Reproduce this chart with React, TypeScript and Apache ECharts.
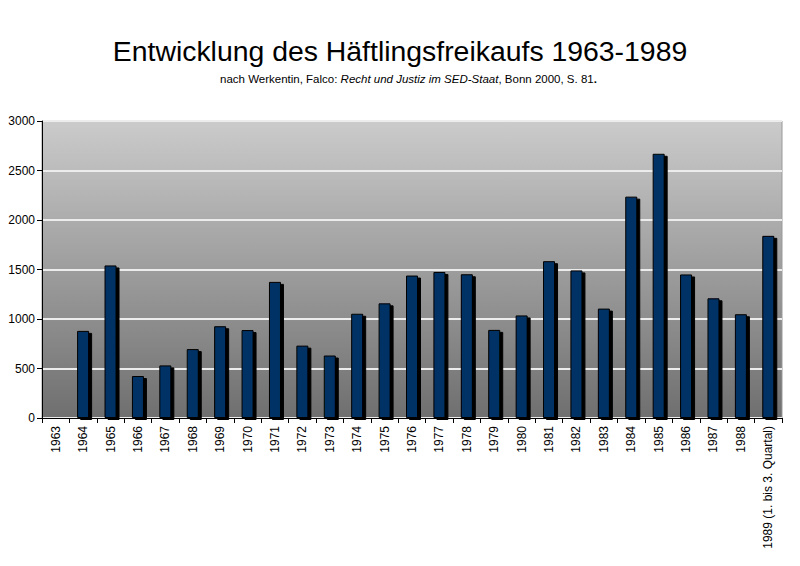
import React, { useEffect, useRef } from "react";
import * as echarts from "echarts";

const categories = [
  "1963", "1964", "1965", "1966", "1967", "1968", "1969", "1970", "1971",
  "1972", "1973", "1974", "1975", "1976", "1977", "1978", "1979", "1980",
  "1981", "1982", "1983", "1984", "1985", "1986", "1987", "1988",
  "1989 (1. bis 3. Quartal)",
];

const prisoners = [
  8, 880, 1541, 424, 531, 696, 927, 888, 1375, 731, 631, 1053, 1158, 1439,
  1475, 1452, 890, 1036, 1584, 1491, 1105, 2236, 2669, 1450, 1209, 1048, 1840,
];

const titleText = "Entwicklung des Häftlingsfreikaufs 1963-1989";

export default function App() {
  const ref = useRef<HTMLDivElement>(null);
  useEffect(() => {
    if (!ref.current) return;
    const chart = echarts.init(ref.current, undefined, { renderer: "svg" });
    const font = "'Liberation Sans', Arial, sans-serif";
    chart.setOption({
      animation: false,
      backgroundColor: "#ffffff",
      textStyle: { fontFamily: font },
      title: [
        {
          text: titleText,
          left: "center",
          top: 32,
          textStyle: { fontFamily: font, fontSize: 28.4, fontWeight: "normal", color: "#000" },
        },
        {
          text: "{n|nach Werkentin, Falco: }{i|Recht und Justiz im SED-Staat}{n|, Bonn 2000, S. 81}{b|.}",
          left: 215,
          top: 68,
          textStyle: {
            fontFamily: font,
            fontSize: 11.5,
            fontWeight: "normal",
            color: "#000",
            rich: {
              n: { fontFamily: font, fontSize: 11.5, color: "#000", fontWeight: "normal" },
              i: { fontFamily: font, fontSize: 11.5, color: "#000", fontWeight: "normal", fontStyle: "italic" },
              b: { fontFamily: font, fontSize: 11.5, color: "#000", fontWeight: "bold" },
            },
          },
        },
      ],
      grid: {
        left: 42,
        right: 18,
        top: 121,
        bottom: 148,
        show: true,
        borderColor: "#999999",
        borderWidth: 1,
        backgroundColor: {
          type: "linear",
          x: 0,
          y: 0,
          x2: 0,
          y2: 1,
          colorStops: [
            { offset: 0, color: "#cbcbcb" },
            { offset: 1, color: "#6f6f6f" },
          ],
        },
      },
      xAxis: {
        type: "category",
        data: categories,
        boundaryGap: true,
        axisLine: { show: true, lineStyle: { color: "#000", width: 1 } },
        axisTick: { show: true, length: 5, alignWithLabel: false, lineStyle: { color: "#000" } },
        axisLabel: {
          rotate: 90,
          interval: 0,
          fontFamily: font,
          fontSize: 12,
          color: "#000",
          margin: 8,
        },
      },
      yAxis: {
        type: "value",
        min: 0,
        max: 3000,
        interval: 500,
        axisLine: { show: true, lineStyle: { color: "#000", width: 1 } },
        axisTick: { show: true, length: 5, lineStyle: { color: "#000" } },
        axisLabel: {
          fontFamily: font,
          fontSize: 12,
          color: "#000",
          margin: 7,
          formatter: (v: number) => String(v),
        },
        splitLine: { show: true, lineStyle: { color: "#ececec", width: 2 } },
      },
      series: [
        {
          type: "bar",
          data: prisoners,
          barWidth: 12,
          itemStyle: {
            color: "#003366",
            borderColor: "#000",
            borderWidth: 1,
            shadowColor: "#000",
            shadowBlur: 0,
            shadowOffsetX: 3,
            shadowOffsetY: 2,
          },
        },
      ],
    });
    return () => chart.dispose();
  }, []);
  return <div ref={ref} style={{ width: 800, height: 566, margin: -8 }} />;
}
